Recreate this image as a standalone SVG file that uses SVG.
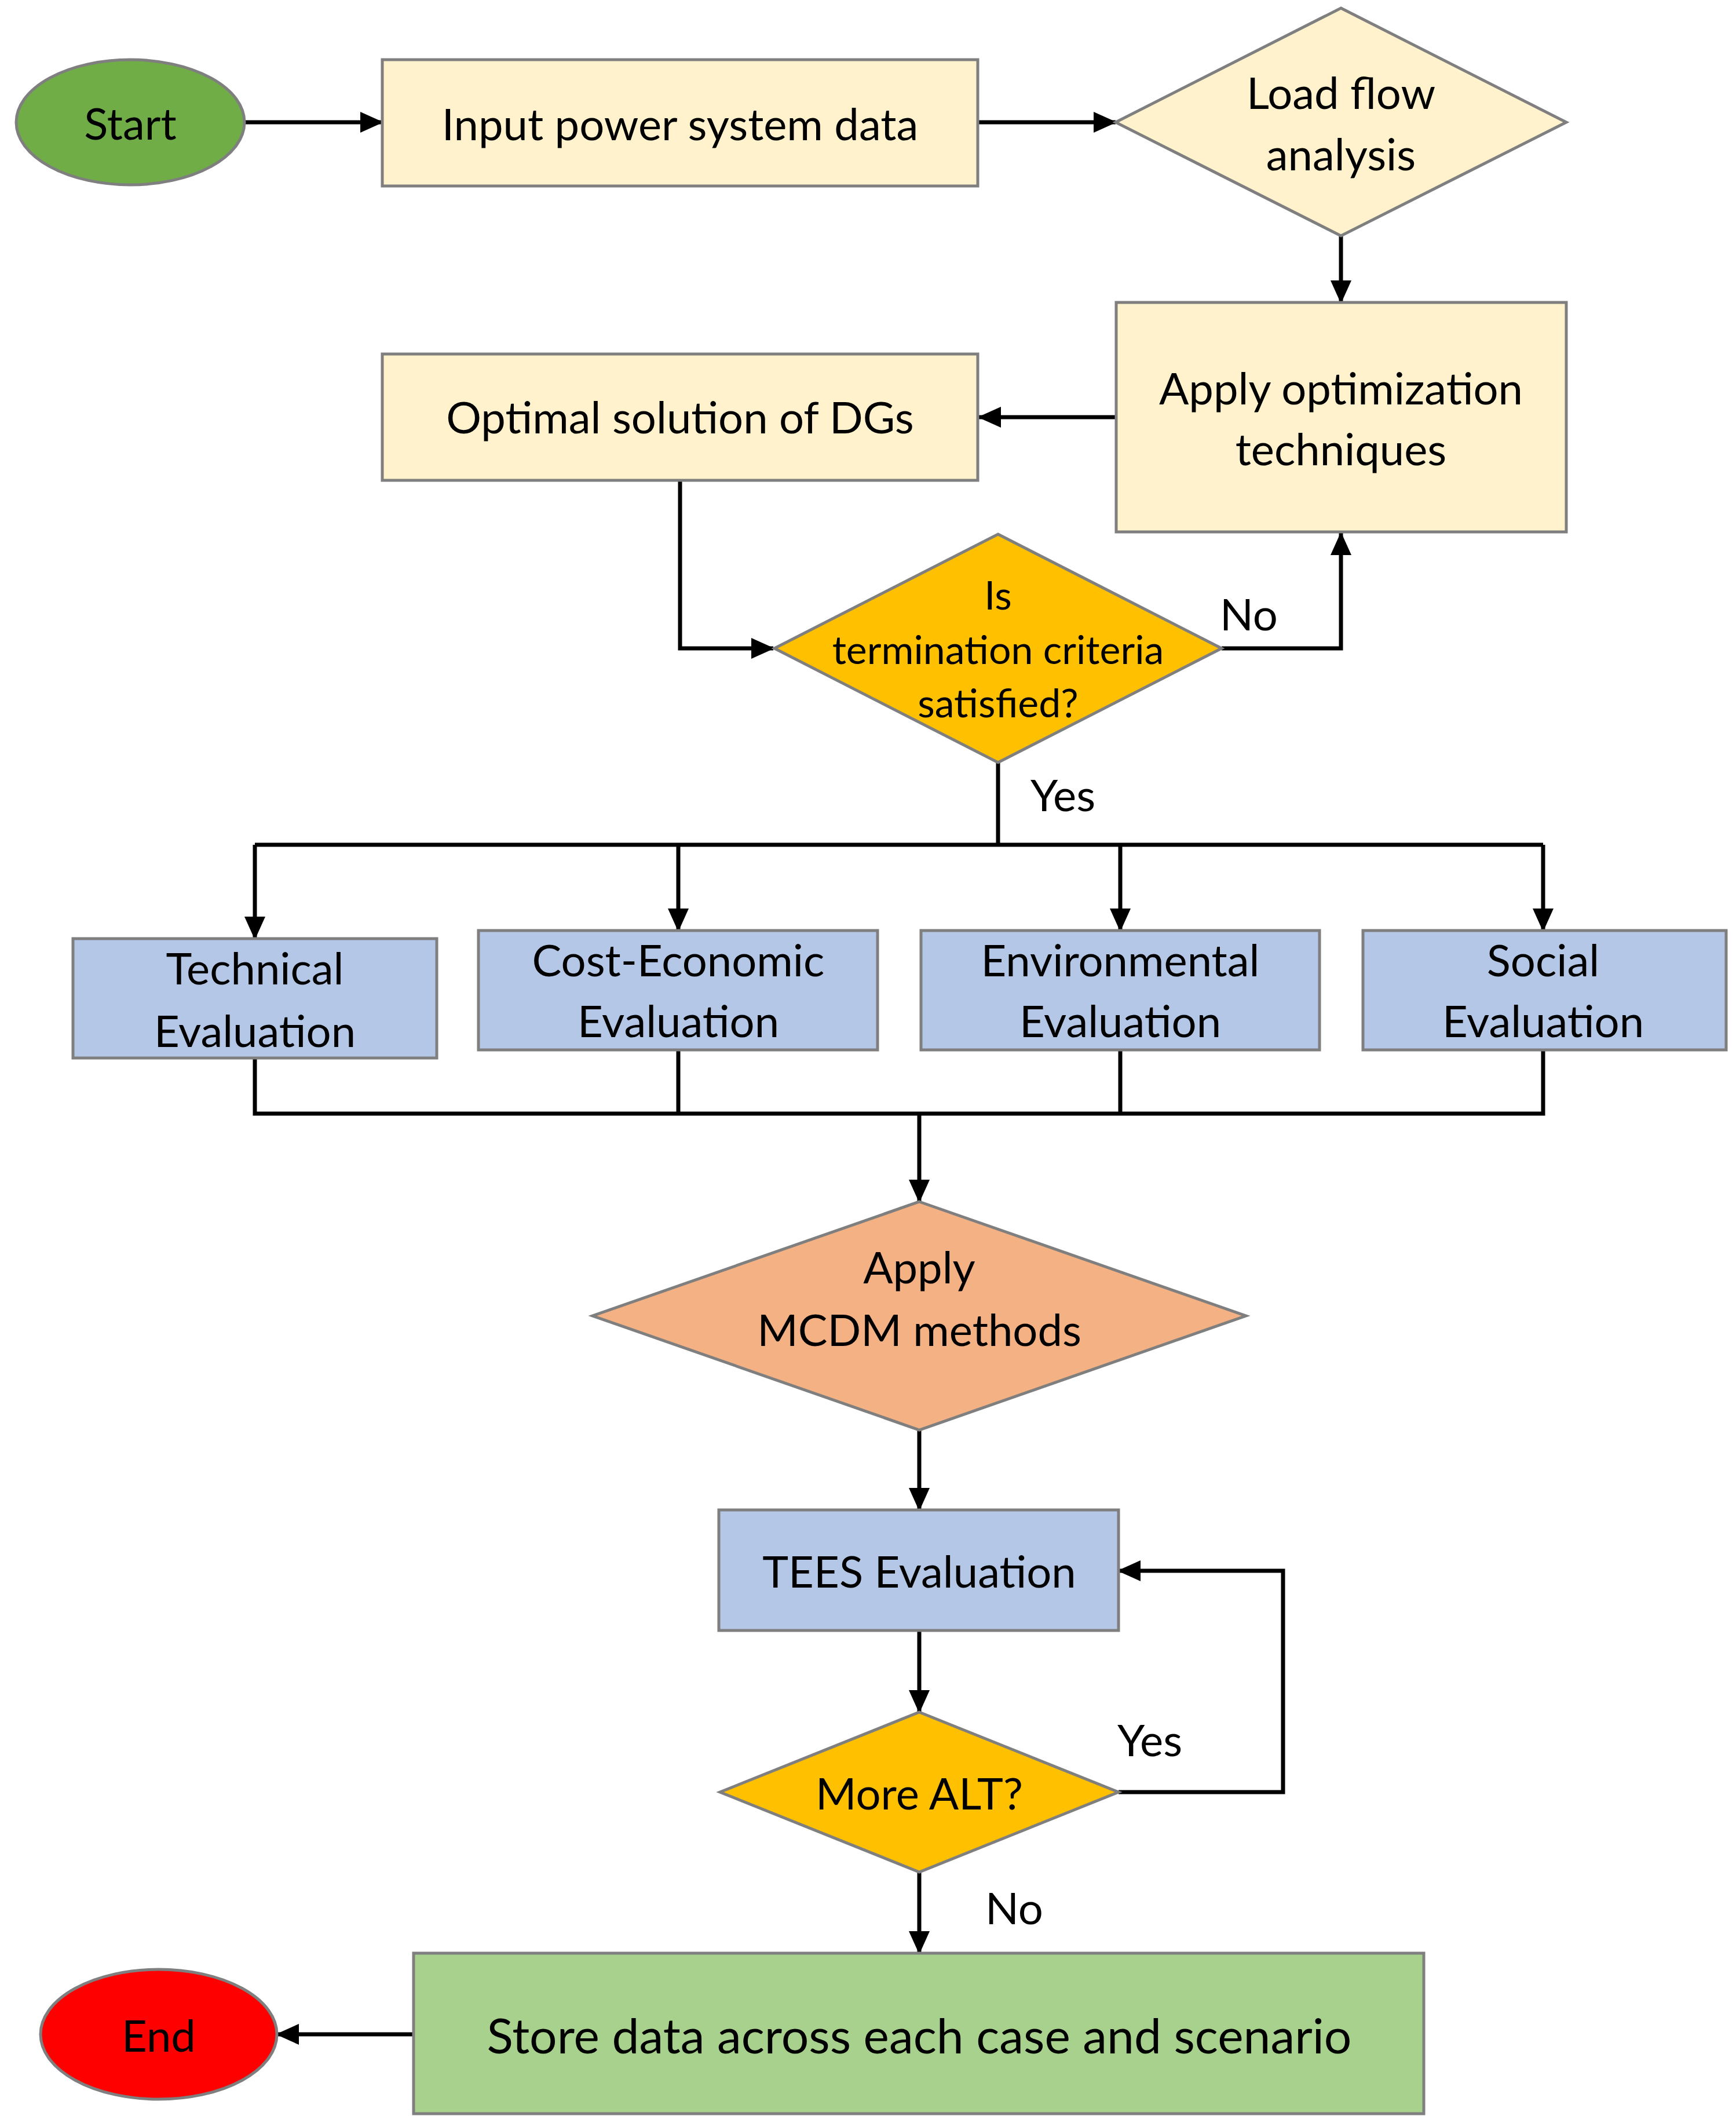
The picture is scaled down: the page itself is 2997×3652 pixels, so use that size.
<svg xmlns="http://www.w3.org/2000/svg" width="2997" height="3652" viewBox="0 0 2997 3652">
<style>
text{font-family:Lato,"Liberation Sans",sans-serif;font-size:76px;fill:#000;text-anchor:middle;dominant-baseline:central}
.b{stroke:#7f7f7f;stroke-width:5}
.y{fill:#fff2cc}.bl{fill:#b4c7e7}.g{fill:#ffc000}
.c{fill:none;stroke:#000;stroke-width:7;marker-end:url(#a)}
.n{fill:none;stroke:#000;stroke-width:7}
</style>
<defs><marker id="a" markerUnits="userSpaceOnUse" markerWidth="40" markerHeight="36" refX="38" refY="18" orient="auto"><path d="M0,0L40,18L0,36z" fill="#000"/></marker></defs>
<rect width="2997" height="3652" fill="#fff"/>
<g id="connectors">
<path class="c" d="M422,211H660"/>
<path class="c" d="M1688,211H1926"/>
<path class="c" d="M2315,407V522"/>
<path class="c" d="M1927,720H1690"/>
<path class="c" d="M1174,829V1119H1335"/>
<path class="c" d="M2109,1119H2315V920"/>
<path class="n" d="M1723,1316V1458"/>
<path class="n" d="M440,1458H2664"/>
<path class="c" d="M440,1458V1620"/>
<path class="c" d="M1171,1458V1606"/>
<path class="c" d="M1934,1458V1606"/>
<path class="c" d="M2664,1458V1606"/>
<path class="n" d="M440,1826V1922H2664V1812M1171,1812V1922M1934,1812V1922"/>
<path class="c" d="M1587,1922V2074"/>
<path class="c" d="M1587,2468V2606"/>
<path class="c" d="M1587,2814V2955"/>
<path class="c" d="M1931,3093H2215V2711H1931"/>
<path class="c" d="M1587,3231V3371"/>
<path class="c" d="M714,3511H478"/>
<text x="2156" y="1058">No</text>
<text x="1835" y="1370">Yes</text>
<text x="1985" y="3001">Yes</text>
<text x="1751" y="3291">No</text>
</g>
<g id="start"><ellipse class="b" cx="225" cy="211" rx="197" ry="108" fill="#70ad47"/><text x="225" y="211">Start</text></g>
<g id="input"><rect class="b y" x="660" y="103" width="1028" height="218"/><text x="1174" y="212">Input power system data</text></g>
<g id="loadflow"><path class="b y" d="M2315,14L2704,211L2315,407L1926,211z"/><text x="2315" y="158">Load flow</text><text x="2315" y="264">analysis</text></g>
<g id="apply"><rect class="b y" x="1927" y="522" width="777" height="396"/><text x="2315" y="668">Apply optimization</text><text x="2315" y="773">techniques</text></g>
<g id="optimal"><rect class="b y" x="660" y="611" width="1028" height="218"/><text x="1174" y="718">Optimal solution of DGs</text></g>
<g id="termination"><path class="b g" d="M1723,922L2109,1119L1723,1316L1337,1119z"/><text x="1723" y="1025" style="font-size:68px">Is</text><text x="1723" y="1119" style="font-size:68px">termination criteria</text><text x="1723" y="1211" style="font-size:68px">satisfied?</text></g>
<g id="technical"><rect class="b bl" x="126" y="1620" width="628" height="206"/><text x="440" y="1669">Technical</text><text x="440" y="1777">Evaluation</text></g>
<g id="cost"><rect class="b bl" x="826" y="1606" width="689" height="206"/><text x="1171" y="1655">Cost-Economic</text><text x="1171" y="1760">Evaluation</text></g>
<g id="environmental"><rect class="b bl" x="1590" y="1606" width="688" height="206"/><text x="1934" y="1655">Environmental</text><text x="1934" y="1760">Evaluation</text></g>
<g id="social"><rect class="b bl" x="2353" y="1606" width="627" height="206"/><text x="2664" y="1655">Social</text><text x="2664" y="1760">Evaluation</text></g>
<g id="mcdm"><path class="b" fill="#f4b183" d="M1587,2074L2151,2271L1587,2468L1023,2271z"/><text x="1587" y="2185">Apply</text><text x="1587" y="2293">MCDM methods</text></g>
<g id="tees"><rect class="b bl" x="1241" y="2606" width="690" height="208"/><text x="1587" y="2710">TEES Evaluation</text></g>
<g id="morealt"><path class="b g" d="M1587,2955L1931,3093L1587,3231L1243,3093z"/><text x="1587" y="3093">More ALT?</text></g>
<g id="store"><rect class="b" fill="#a9d18e" x="714" y="3371" width="1744" height="277"/><text x="1587" y="3511" style="font-size:84px">Store data across each case and scenario</text></g>
<g id="end"><ellipse class="b" cx="274" cy="3511" rx="204" ry="112" fill="#ff0000"/><text x="274" y="3511">End</text></g>
</svg>
